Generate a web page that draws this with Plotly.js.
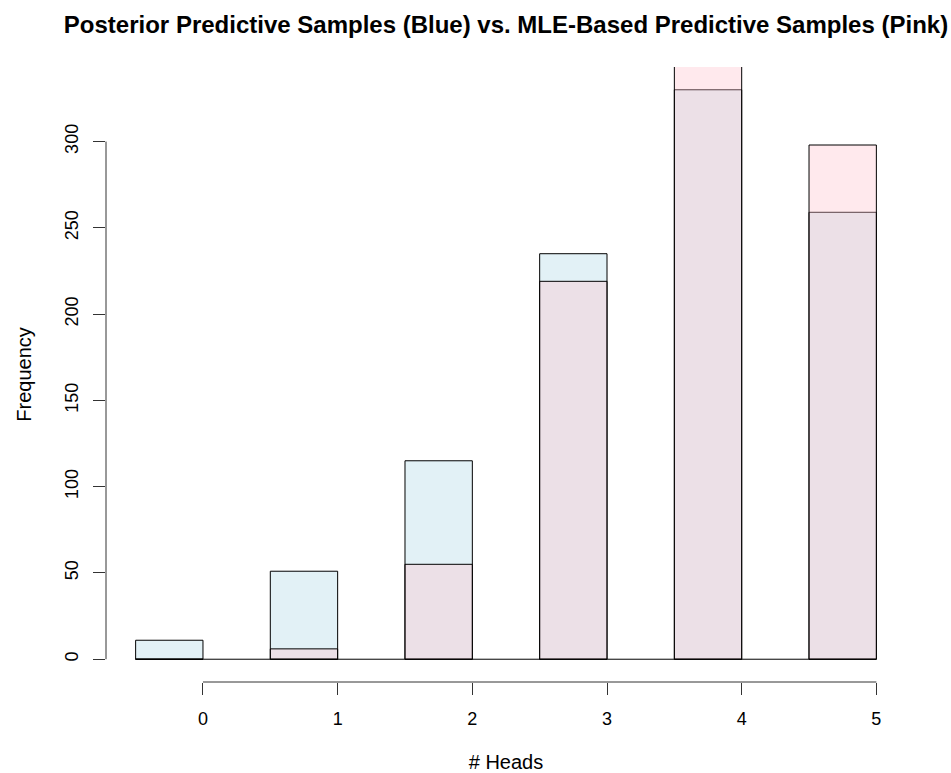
<!DOCTYPE html>
<html>
<head>
<meta charset="utf-8">
<script src="https://cdn.plot.ly/plotly-3.0.1.min.js"></script>
<style>body{margin:0;padding:0;background:#fff;} #chart{width:951px;height:773px;}</style>
</head>
<body>
<div id="chart"></div>
<script>
// Data: number of heads (bin right edge; bins are (x-0.5, x])
const heads = [0, 1, 2, 3, 4, 5];
const posteriorCounts = [11, 51, 115, 235, 330, 259];   // blue
const mleCounts = [0, 6, 55, 219, 422, 298];            // pink (bar at 4 is clipped)
const xTicks = [0, 1, 2, 3, 4, 5];
const yTicks = [0, 50, 100, 150, 200, 250, 300];

const binWidth = 0.5;
const font = "Liberation Sans, Arial, Helvetica, sans-serif";

const yMax = Math.max(...posteriorCounts);
const yRange = [-0.04 * yMax, 1.04 * yMax];
const xLo = heads[0] - binWidth, xHi = heads[heads.length - 1];
const xPad = 0.04 * (xHi - xLo);

const traces = [
  {
    type: "bar", x: heads, y: posteriorCounts,
    width: binWidth, offset: -binWidth,
    marker: { color: "rgba(173,216,230,0.35)", line: { color: "#000", width: 1 } },
    hoverinfo: "x+y", name: "Posterior"
  },
  {
    type: "bar", x: heads, y: mleCounts,
    width: binWidth, offset: -binWidth,
    marker: { color: "rgba(255,192,203,0.35)", line: { color: "#000", width: 1 } },
    hoverinfo: "x+y", name: "MLE"
  }
];

const layout = {
  width: 951, height: 773,
  margin: { l: 106, r: 45, t: 67, b: 91 },
  paper_bgcolor: "#fff", plot_bgcolor: "#fff",
  barmode: "overlay",
  showlegend: false,
  font: { family: font, size: 18, color: "#000" },
  title: {
    text: "<b>Posterior Predictive Samples (Blue) vs. MLE-Based Predictive Samples (Pink)</b>",
    font: { family: font, size: 24, color: "#000" },
    x: 0.5, xref: "paper", xanchor: "center",
    y: 1 - 25 / 773, yref: "container", yanchor: "middle"
  },
  xaxis: {
    range: [xLo - xPad, xHi + xPad],
    tickvals: xTicks, ticktext: xTicks.map(String),
    ticks: "outside", ticklen: 12, tickwidth: 1, tickcolor: "#333",
    showline: false, showgrid: false, zeroline: false,
    ticklabelstandoff: 8,
    tickfont: { family: font, size: 18, color: "#000" },
    title: { text: "# Heads", font: { family: font, size: 20, color: "#000" }, standoff: 33 },
    fixedrange: true
  },
  yaxis: {
    range: yRange,
    tickvals: yTicks, ticktext: yTicks.map(String),
    tickangle: -90,
    ticks: "outside", ticklen: 12, tickwidth: 1, tickcolor: "#333",
    showline: false, showgrid: false, zeroline: false,
    ticklabelstandoff: 8,
    tickfont: { family: font, size: 18, color: "#000" },
    title: { text: "Frequency", font: { family: font, size: 20, color: "#000" }, standoff: 24 },
    fixedrange: true
  },
  shapes: [
    // R-style axis lines spanning first to last tick
    { type: "line", xref: "x", yref: "paper", x0: xTicks[0], x1: xTicks[xTicks.length - 1], y0: 0, y1: 0,
      line: { color: "#333", width: 1 } },
    { type: "line", xref: "paper", yref: "y", x0: 0, x1: 0, y0: yTicks[0], y1: yTicks[yTicks.length - 1],
      line: { color: "#333", width: 1 } },
    // zero-count bins drawn as baseline (as R hist does)
    { type: "line", xref: "x", yref: "y", x0: xLo, x1: xHi, y0: 0, y1: 0,
      line: { color: "#000", width: 1 }, layer: "above" }
  ]
};

Plotly.newPlot("chart", traces, layout, { displayModeBar: false, staticPlot: true });
</script>
</body>
</html>
